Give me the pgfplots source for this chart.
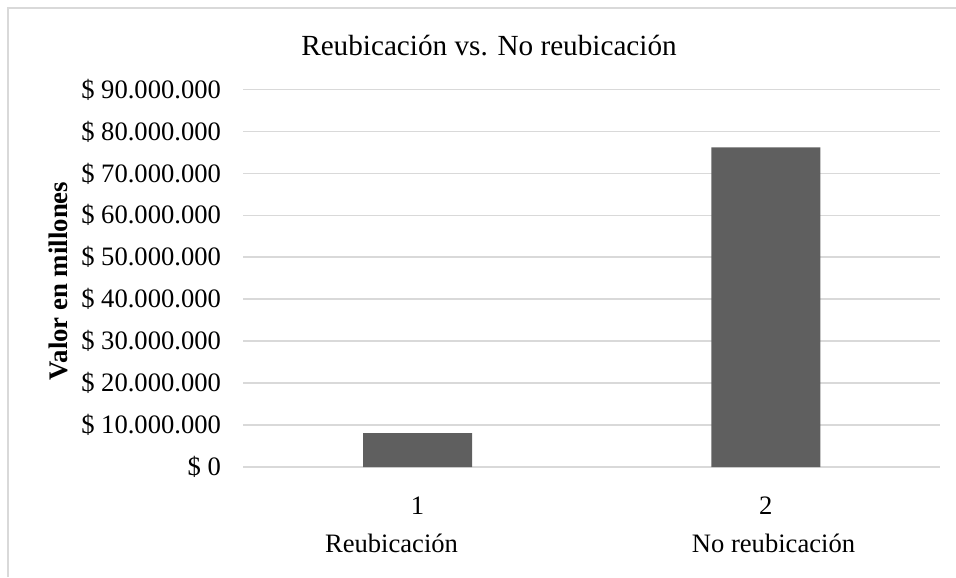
\documentclass[border=0pt]{standalone}
\usepackage{pgfplots}
\pgfplotsset{compat=1.18}
\usepackage{fontspec}
\setmainfont{Liberation Serif}

\definecolor{barc}{RGB}{95,95,95}
\definecolor{gridc}{RGB}{217,217,217}

\begin{document}
\begin{tikzpicture}
\useasboundingbox (-121.75pt,-55pt) rectangle (356.25pt,233.5pt);
% chart frame (only top and left edges show in the reference)
\draw[gridc, line width=1pt] (-117.5pt,-55pt) -- (-117.5pt,229.25pt) -- (356.25pt,229.25pt);
\begin{axis}[
    at={(0pt,0pt)}, anchor=south west,
    scale only axis,
    width=348.25pt, height=188.75pt,
    ybar, bar width=54.5pt,
    xmin=0.5, xmax=2.5,
    ymin=0, ymax=90000000,
    xtick={1,2}, xticklabels={1,2},
    ytick={0,10000000,20000000,30000000,40000000,50000000,60000000,70000000,80000000,90000000},
    yticklabels={\$ 0,\$ 10.000.000,\$ 20.000.000,\$ 30.000.000,\$ 40.000.000,\$ 50.000.000,\$ 60.000.000,\$ 70.000.000,\$ 80.000.000,\$ 90.000.000},
    scaled y ticks=false,
    /pgf/number format/assume math mode=true,
    axis line style={draw=none},
    major tick length=0pt,
    ymajorgrids, grid style={gridc, line width=0.8pt},
    tick label style={font=\fontsize{13.3}{15}\selectfont, text=black},
    yticklabel style={xshift=-7.75pt},
    xticklabel style={yshift=-11.5pt},
    clip=false,
]
\addplot[fill=barc, draw=none] coordinates {(1,8100000) (2,76200000)};
\end{axis}
\node[anchor=base, font=\fontsize{14.6}{17}\selectfont] at (122.75pt,205.5pt) {Reubicación vs. No reubicación};
\node[rotate=90, font=\fontsize{13.4}{15}\selectfont\bfseries] at (-92.75pt,93pt) {Valor en millones};
\node[anchor=base, font=\fontsize{13.3}{15}\selectfont] at (74pt,-42.85pt) {Reubicación};
\node[anchor=base, font=\fontsize{13.3}{15}\selectfont] at (265pt,-42.85pt) {No reubicación};
\end{tikzpicture}
\end{document}
